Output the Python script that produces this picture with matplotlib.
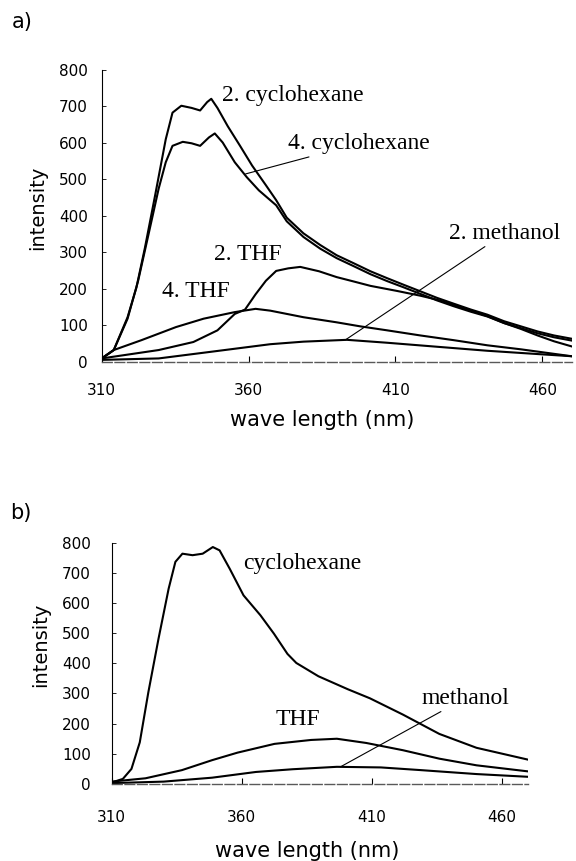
import matplotlib
matplotlib.use("Agg")
import matplotlib.pyplot as plt

# ---- panel a ----
cyc2_x = [310, 314.1, 318.8, 321.8, 324.7, 328.2, 331.8, 334.1, 337.1, 340.6, 343.5, 345.9, 347.3,
          349.4, 352.9, 357.1, 361.2, 365.9, 369.4, 373, 378.7, 384.4, 390, 395.8, 401.5, 407.2,
          412.8, 418.5, 424.2, 429.9, 435.7, 441.3, 447, 452.7, 458.4, 464, 470]
cyc2_y = [9, 32, 122, 203, 312, 457, 610, 683, 702, 696, 689, 712, 721,
          696, 646, 592, 538, 484, 443, 395, 352, 320, 292, 270, 248, 229,
          211, 193, 175, 159, 143, 129, 111, 97, 83, 72, 63]

cyc4_x = [310, 314.1, 318.8, 322.4, 325.9, 329.4, 331.8, 334.1, 337.6, 340.6, 343.5, 346.5, 348.5,
          351.2, 355.3, 359.4, 363.5, 369.4, 373, 378.7, 384.4, 390, 395.8, 401.5, 407.2,
          412.8, 418.5, 424.2, 429.9, 435.7, 441.3, 447, 452.7, 458.4, 464, 470]
cyc4_y = [9, 32, 118, 222, 348, 475, 547, 592, 603, 599, 592, 615, 626,
          601, 547, 506, 470, 429, 385, 342, 310, 284, 262, 240, 221,
          204, 186, 168, 152, 137, 124, 106, 92, 78, 67, 58]

thf2_x = [310, 317.6, 329.4, 341.2, 349.4, 355.3, 358.8, 362.4, 365.9, 369.4, 373.5, 377.6, 384,
          390, 395.8, 401.5, 410.6, 418.5, 424.2, 429.9, 435.7, 441.3, 447, 452.7, 458.4, 464, 470]
thf2_y = [9, 18, 32, 54, 86, 131, 143, 185, 222, 249, 256, 260, 248,
          232, 220, 208, 194, 181, 170, 156, 140, 125, 106, 90, 72, 56, 42]

thf4_x = [310, 314.1, 323.5, 335.3, 344.7, 355.3, 362.4, 367.4, 378.7, 390, 398, 407.2, 418.5,
          429.9, 441.3, 452.7, 470]
thf4_y = [9, 32, 59, 95, 118, 136, 145, 140, 122, 108, 97, 86, 72, 59, 45, 34, 15]

meth2_x = [310, 329.4, 347, 367.4, 378.7, 393.5, 407.2, 424.2, 441.3, 458.4, 470]
meth2_y = [5, 9, 27, 48, 55, 60, 52, 41, 30, 21, 15]

# ---- panel b ----
cyc_x = [310, 314.3, 317.6, 320.8, 324.1, 328, 331.9, 334.5, 337.2, 341.1, 345, 348.9, 351.5,
         355.4, 360.7, 367.2, 372.4, 377.6, 381, 389.5, 400.8, 409.3, 422, 436, 450.3, 470]
cyc_y = [5, 17, 50, 138, 304, 481, 647, 736, 763, 758, 763, 785, 774,
         713, 625, 559, 498, 431, 401, 357, 314, 284, 230, 166, 120, 81]

thf_x = [310, 323, 337, 348.6, 358.4, 372.6, 386.7, 396.6, 407.9, 422, 436, 450.3, 470]
thf_y = [8, 19, 46, 79, 104, 133, 146, 150, 136, 112, 84, 62, 42]

meth_x = [310, 330, 348.6, 365.5, 379.6, 396.6, 413.5, 429, 450.3, 470]
meth_y = [3, 8, 21, 40, 49, 57, 55, 46, 33, 24]

xticks = [310, 360, 410, 460]
yticks = [0, 100, 200, 300, 400, 500, 600, 700, 800]

serif = "Liberation Serif"
anno_size = 17

fig = plt.figure(figsize=(5.76, 8.61), dpi=100)
ax_a = fig.add_axes([0.1766, 0.5799, 0.8158, 0.3388])
ax_b = fig.add_axes([0.1939, 0.0894, 0.7223, 0.2805])


def style_axes(ax, xpad, ypad):
    ax.set_xlim(310, 470)
    ax.set_ylim(0, 800)
    ax.set_xticks(xticks)
    ax.set_yticks(yticks)
    ax.spines["top"].set_visible(False)
    ax.spines["right"].set_visible(False)
    ax.spines["left"].set_linewidth(0.8)
    ax.spines["bottom"].set_linewidth(1.0)
    ax.spines["bottom"].set_color("0.35")
    ax.spines["bottom"].set_linestyle((0, (7, 2)))
    ax.tick_params(axis="x", direction="in", length=4, width=0.8, pad=xpad, labelsize=11)
    ax.tick_params(axis="y", direction="in", length=3, width=0.6, pad=ypad, labelsize=11)
    ax.set_xlabel("wave length (nm)", fontsize=15, va="center")
    ax.set_ylabel("intensity", fontsize=14, va="center")


lw = 1.5
line_kw = dict(arrowstyle="-", lw=0.8, color="black", shrinkA=0, shrinkB=0)

ax_a.plot(cyc2_x, cyc2_y, color="black", lw=lw)
ax_a.plot(cyc4_x, cyc4_y, color="black", lw=lw)
ax_a.plot(thf2_x, thf2_y, color="black", lw=lw)
ax_a.plot(thf4_x, thf4_y, color="black", lw=lw)
ax_a.plot(meth2_x, meth2_y, color="black", lw=lw)
style_axes(ax_a, 15, 10)
ax_a.xaxis.set_label_coords(0.47, -0.199)
ax_a.yaxis.set_label_coords(-0.136, 0.527)

ax_a.text(351, 729, "2. cyclohexane", family=serif, fontsize=anno_size, va="center")
ax_a.annotate("4. cyclohexane", xy=(359, 515), xytext=(373.3, 598), family=serif,
              fontsize=anno_size, va="center", arrowprops=line_kw)
ax_a.text(348.4, 294, "2. THF", family=serif, fontsize=anno_size, va="center")
ax_a.text(330.5, 192, "4. THF", family=serif, fontsize=anno_size, va="center")
ax_a.annotate("2. methanol", xy=(393, 60), xytext=(428.3, 352), family=serif,
              fontsize=anno_size, va="center", arrowprops=line_kw)

ax_b.plot(cyc_x, cyc_y, color="black", lw=lw)
ax_b.plot(thf_x, thf_y, color="black", lw=lw)
ax_b.plot(meth_x, meth_y, color="black", lw=lw)
style_axes(ax_b, 19, 15)
ax_b.xaxis.set_label_coords(0.47, -0.277)
ax_b.yaxis.set_label_coords(-0.172, 0.576)

ax_b.text(360.6, 729, "cyclohexane", family=serif, fontsize=anno_size, va="center")
ax_b.text(373, 215, "THF", family=serif, fontsize=anno_size, va="center")
ax_b.annotate("methanol", xy=(398, 57), xytext=(429, 284), family=serif,
              fontsize=anno_size, va="center", arrowprops=line_kw)

fig.text(0.038, 0.9744, "a)", fontsize=15, ha="center", va="center")
fig.text(0.036, 0.404, "b)", fontsize=15, ha="center", va="center")

fig.savefig("out.png", dpi=100)
